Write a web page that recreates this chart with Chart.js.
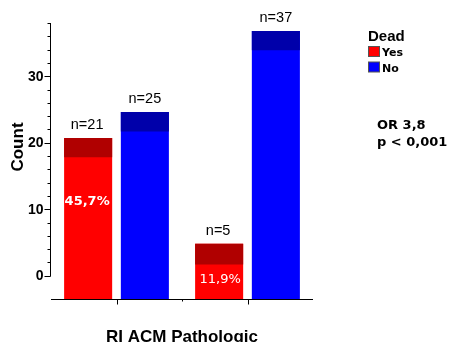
<!DOCTYPE html>
<html>
<head>
<meta charset="utf-8">
<script src="https://cdn.jsdelivr.net/npm/chart.js@4.4.1/dist/chart.umd.min.js"></script>
<style>
  html, body { margin: 0; padding: 0; background: #fff; }
  #count-chart { display: block; }
</style>
</head>
<body>
<canvas id="count-chart" width="449" height="342"></canvas>
<script>
(function () {
  'use strict';

  // data
  const categories = ['Pathologic', 'Not pathologic'];
  const yesTop = [20.7, 4.8];      // Dead = Yes, bar top
  const yesBand = [17.8, 1.7];     // bottom of the dark top band
  const noTop = [24.6, 36.8];      // Dead = No, bar top
  const noBand = [21.7, 33.9];
  const yesLabels = ['n=21', 'n=5'];
  const noLabels = ['n=25', 'n=37'];
  const yesPercent = ['45,7%', '11,9%'];
  const yTicks = [0, 10, 20, 30];
  const yMin = -3.5;
  const yMax = 38;

  const red = '#ff0000';
  const redDark = '#b00000';
  const blue = '#0000ff';
  const blueDark = '#0000aa';

  const ctx = document.getElementById('count-chart');

  // the first dataset is drawn on top, so the dark bands come first
  new Chart(ctx, {
    type: 'bar',
    data: {
      labels: categories,
      datasets: [{
        label: 'Yes (top)',
        stack: 'yes',
        data: categories.map((c, i) => [yesBand[i], yesTop[i]]),
        backgroundColor: redDark,
        borderWidth: 0
      },
      {
        label: 'Yes',
        stack: 'yes',
        data: categories.map((c, i) => [yMin, yesTop[i]]),
        backgroundColor: red,
        borderWidth: 0
      },
      {
        label: 'No (top)',
        stack: 'no',
        data: categories.map((c, i) => [noBand[i], noTop[i]]),
        backgroundColor: blueDark,
        borderWidth: 0
      },
      {
        label: 'No',
        stack: 'no',
        data: categories.map((c, i) => [yMin, noTop[i]]),
        backgroundColor: blue,
        borderWidth: 0
      }]
    },
    options: {
      responsive: false,
      animation: false,
      datasets: {
        bar: {
          categoryPercentage: 0.866,
          barPercentage: 0.847
        }
      },
      layout: {
        padding: { left: 51, right: 136, top: 23, bottom: 43 }
      },
      scales: {
        x: {
          display: false,
          offset: true
        },
        y: {
          display: false,
          stacked: false,
          min: yMin,
          max: yMax
        }
      },
      plugins: {
        legend: { display: false },
        tooltip: { enabled: false }
      }
    },
    plugins: [{
      afterDraw: function (chart) {
        const c = chart.ctx;
        const xs = chart.scales.x;
        const ys = chart.scales.y;
        const area = chart.chartArea;
        c.save();
        c.strokeStyle = '#000';
        c.fillStyle = '#000';
        c.lineWidth = 1;

        // y axis, stops at 0 like the original
        const ax = 50.5;
        c.beginPath();
        c.moveTo(ax, Math.round(ys.getPixelForValue(0)) + 0.5);
        c.lineTo(ax, Math.round(ys.getPixelForValue(yMax)));
        c.stroke();
        for (let v = 0; v <= yMax; v += 2) {
          const py = Math.round(ys.getPixelForValue(v)) + 0.5;
          const major = yTicks.indexOf(v) !== -1;
          c.beginPath();
          c.moveTo(ax, py);
          c.lineTo(ax - (major ? 6 : 3), py);
          c.stroke();
        }
        c.font = 'bold 14px "Liberation Sans", Arial, sans-serif';
        c.textAlign = 'right';
        c.textBaseline = 'middle';
        yTicks.forEach(function (v) {
          c.fillText(String(v), 43.5, ys.getPixelForValue(v) + 0.5);
        });

        // x axis
        const by = area.bottom + 0.5;
        c.beginPath();
        c.moveTo(area.left, by);
        c.lineTo(area.right, by);
        c.stroke();
        const centers = categories.map((cat, i) => xs.getPixelForValue(i));
        centers.forEach(function (px) {
          c.beginPath();
          c.moveTo(Math.round(px) + 0.5, by);
          c.lineTo(Math.round(px) + 0.5, by + 5);
          c.stroke();
        });
        const mid = Math.round((centers[0] + centers[1]) / 2) + 0.5;
        c.beginPath();
        c.moveTo(mid, by);
        c.lineTo(mid, by + 2);
        c.stroke();

        // axis titles
        c.font = 'bold 17px "Liberation Sans", Arial, sans-serif';
        c.textAlign = 'center';
        c.textBaseline = 'alphabetic';
        c.fillText('RI ACM Pathologic', (area.left + area.right) / 2, 342);
        c.save();
        c.translate(23, 147);
        c.rotate(-Math.PI / 2);
        c.fillText('Count', 0, 0);
        c.restore();

        // n= labels above bars
        const yesMeta = chart.getDatasetMeta(1);
        const noMeta = chart.getDatasetMeta(3);
        c.font = '14.5px "Liberation Sans", Arial, sans-serif';
        categories.forEach(function (cat, i) {
          c.fillText(yesLabels[i], yesMeta.data[i].x - 1, ys.getPixelForValue(yesTop[i]) - 9);
          c.fillText(noLabels[i], noMeta.data[i].x, ys.getPixelForValue(noTop[i]) - 9);
        });

        // percent labels inside the red bars
        c.fillStyle = '#fff';
        const pctY = [10.6, -1.1];
        c.font = 'bold 13px "DejaVu Sans", Verdana, sans-serif';
        c.fillText(yesPercent[0], yesMeta.data[0].x - 1, ys.getPixelForValue(pctY[0]));
        c.font = '13px "DejaVu Sans", Verdana, sans-serif';
        c.fillText(yesPercent[1], yesMeta.data[1].x + 1, ys.getPixelForValue(pctY[1]));

        // legend
        c.fillStyle = '#000';
        c.textAlign = 'left';
        c.font = 'bold 15px "Liberation Sans", Arial, sans-serif';
        c.fillText('Dead', 368, 41);
        c.fillStyle = red;
        c.fillRect(369, 46.5, 11, 10);
        c.strokeStyle = '#555';
        c.strokeRect(368.5, 46.5, 11, 10);
        c.fillStyle = blue;
        c.fillRect(369, 62, 11, 10);
        c.strokeRect(368.5, 62, 11, 10);
        c.fillStyle = '#000';
        c.font = 'bold 11px "DejaVu Sans", Verdana, sans-serif';
        c.fillText('Yes', 382, 55.5);
        c.fillText('No', 382, 71.5);

        // statistics
        c.font = 'bold 13px "DejaVu Sans", Verdana, sans-serif';
        c.fillText('OR 3,8', 377, 129);
        c.fillText('p < 0,001', 377, 146);
        c.restore();
      }
    }]
  });
})();
</script>
</body>
</html>
